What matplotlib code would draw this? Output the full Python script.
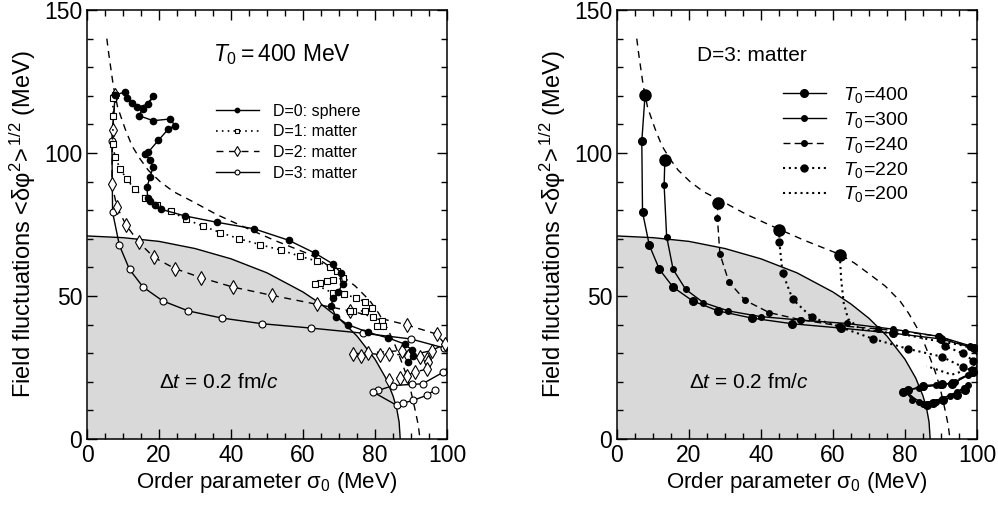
import matplotlib
matplotlib.use('Agg')
import matplotlib.pyplot as plt
from matplotlib.ticker import MultipleLocator

plt.rcParams['font.family'] = ['Liberation Sans', 'DejaVu Sans']
plt.rcParams['mathtext.fontset'] = 'custom'
plt.rcParams['mathtext.rm'] = 'Liberation Sans'
plt.rcParams['mathtext.it'] = 'Liberation Sans:italic'
plt.rcParams['mathtext.bf'] = 'Liberation Sans:bold'

# shaded region boundary
shade_x = [0, 10, 20, 30, 40, 50, 60, 65, 70, 75, 80, 83, 85, 86, 86.7, 87]
shade_y = [71, 70.4, 69.1, 66.6, 63.0, 58.1, 51.4, 47.2, 42.2, 36.0, 27.9, 21.3, 15.1, 10.8, 5.9, 0]

# dashed boundary curve
dash_x = [5.5, 6.0, 7.3, 8.5, 10.6, 12.5, 14.7, 17, 20.3, 24, 29.4, 36, 44.4, 52, 62.0, 66, 70.3,
          74.5, 78.6, 81, 83.3, 85.2, 86.9, 88.4, 89.7, 91, 92.0, 92.5]
dash_y = [140, 135, 123.5, 116, 108.4, 102.5, 98, 94, 90, 86.5, 83, 78.5, 73.7, 69.5, 64.5, 61.5, 57.5,
          53.5, 48.3, 44, 39, 34, 28.6, 23.5, 18.2, 11, 5, 0]

# left panel: T0 = 400 MeV
d0_x = [7.8, 10.6, 11.0, 12.4, 13.8, 17.0, 18.4, 15.6, 14.3, 18.4, 23.1, 24.4, 22.6, 19.8, 17.0, 16.1,
        17.5, 18.4, 17.5, 16.7, 16.8, 17.5, 18.9, 20.6, 27.2, 36.0, 46.4, 56.0, 63.3, 68.2, 70.5, 71.0,
        69.8, 68.4, 67.8, 69.2, 72.6, 78.1, 83.7, 88.3, 90.2, 90.5, 89.3]
d0_y = [120.2, 121.4, 119.4, 117.5, 116.0, 117.1, 119.8, 115.4, 113.1, 111.3, 111.9, 109.6, 108.4, 104.4,
        100.3, 99.8, 97.5, 95.1, 91.7, 88.2, 84.4, 83.2, 81.8, 80.3, 78.0, 75.8, 73.5, 69.5, 65.0, 61.3,
        58.1, 54.3, 51.4, 49.4, 46.5, 42.7, 39.9, 37.3, 35.3, 33.2, 31.1, 29.2, 26.8]

d1_x = [7.8, 7.1, 7.3, 7.1, 7.8, 9.2, 11.0, 13.2, 16.1, 19.5, 23.2, 27.5, 32.1, 37.0, 42.3, 48.0, 54.0,
        59.2, 63.8, 67.5, 69.5, 71.2, 68.4, 66.6, 64.7, 63.3, 68.2, 71.5, 74.6, 77.2, 79.1, 77.2, 74.0,
        73.1, 79.5, 81.9, 82.3, 80.5]
d1_y = [120.2, 119.4, 113.1, 103.2, 98.6, 94.5, 90.9, 87.4, 84.4, 81.8, 79.7, 76.8, 74.5, 72.2, 70.0,
        68.0, 66.0, 63.9, 62.2, 60.1, 58.7, 56.4, 55.5, 55.2, 54.6, 54.1, 51.1, 50.6, 49.4, 48.0, 45.9,
        44.8, 44.8, 44.8, 42.7, 41.3, 39.6, 39.6]

d2_x = [7.8, 7.1, 6.9, 8.3, 10.8, 14.3, 18.6, 24.4, 31.7, 40.6, 51.5, 63.8, 73.1, 88.8, 97.1, 99.4,
        95.7, 89.3, 84.0, 81.4, 78.1, 76.0, 74.0, 87.4, 92.5, 94.4, 94.8, 94.5, 91.1, 88.8, 86.9, 84.0]
d2_y = [120.2, 107.9, 89.2, 81.2, 74.9, 68.9, 63.5, 59.6, 56.4, 53.1, 50.2, 47.1, 44.8, 39.9, 36.7, 33.2,
        30.9, 29.2, 29.8, 29.5, 30.0, 29.2, 29.8, 30.9, 28.6, 28.0, 26.8, 24.5, 23.4, 22.2, 21.4, 20.7]

d3_x = [7.8, 6.9, 7.1, 9.0, 11.8, 15.6, 21.0, 28.1, 37.4, 48.7, 62.1, 76.6, 89.9, 99.3, 102.0, 99.0,
        93.2, 90.2, 85.1, 80.9, 79.5, 86.0, 87.9, 90.6, 94.4, 96.7]
d3_y = [120.2, 104.1, 79.3, 67.7, 59.3, 53.1, 48.3, 44.8, 42.3, 40.3, 38.8, 37.0, 35.0, 31.8, 27.5, 23.4,
        19.3, 19.1, 18.7, 17.0, 16.4, 11.8, 12.6, 13.5, 15.3, 17.2]

# right panel: D=3 matter, different T0
t300_x = [13.3, 13.1, 13.8, 15.6, 19.1, 24.0, 30.9, 39.9, 50.8, 63.8, 76.8, 89.3, 98.1, 101.5, 98.5,
          94.0, 89.7, 85.0, 80.3, 82.0, 85.1, 90.2, 94.5, 97.5]
t300_y = [97.5, 88.8, 70.8, 59.3, 52.3, 47.7, 44.8, 42.8, 41.6, 40.4, 38.4, 35.9, 32.6, 28.0, 23.0,
          20.0, 18.8, 18.3, 16.8, 13.5, 12.4, 14.1, 16.5, 19.0]

t240_x = [28.0, 27.9, 28.6, 31.1, 35.6, 42.3, 51.0, 61.8, 72.5, 80.0, 89.5, 98.1, 101.5, 97.5, 93.0,
          88.5, 84.0, 80.0, 84.0, 88.5, 92.5, 96.5]
t240_y = [82.4, 77.2, 64.7, 54.9, 48.5, 44.2, 41.7, 39.6, 38.5, 37.5, 35.9, 32.1, 27.5, 22.5, 19.8,
          19.0, 17.8, 16.9, 12.8, 13.0, 15.0, 17.8]

t220_x = [45.1, 45.1, 46.0, 48.8, 54.1, 61.9, 71.2, 80.9, 90.2, 96.2, 98.5, 99.0, 96.0, 91.0]
t220_y = [73.2, 68.9, 58.1, 48.9, 42.5, 39.2, 35.0, 31.5, 28.8, 25.1, 24.0, 27.4, 30.0, 32.5]

t200_x = [61.9, 62.3, 63.0, 64.2, 67.5, 73.0, 80.0, 88.0, 95.0, 99.5, 101.0, 98.0, 93.0, 86.0]
t200_y = [64.2, 55.5, 47.5, 42.0, 38.5, 37.5, 36.5, 34.5, 33.0, 31.5, 28.0, 24.5, 22.5, 25.5]

fig = plt.figure(figsize=(9.98, 5.08), dpi=100)
ax1 = fig.add_axes([0.0872, 0.1358, 0.3607, 0.8445])
ax2 = fig.add_axes([0.6182, 0.1358, 0.3607, 0.8445])

for ax in (ax1, ax2):
    ax.fill_between(shade_x, 0, shade_y, color='#d9d9d9', lw=0, zorder=0)
    ax.plot(shade_x, shade_y, 'k-', lw=1.0, zorder=1)
    ax.plot(dash_x, dash_y, color='k', lw=1.0, ls=(0, (5, 4)), zorder=1)
    ax.set_xlim(0, 100)
    ax.set_ylim(0, 150)
    ax.xaxis.set_major_locator(MultipleLocator(20))
    ax.xaxis.set_minor_locator(MultipleLocator(5))
    ax.yaxis.set_major_locator(MultipleLocator(50))
    ax.yaxis.set_minor_locator(MultipleLocator(10))
    ax.tick_params(which='both', direction='in', top=True, right=True, labelsize=16.5, width=1.0)
    ax.tick_params(which='major', length=7)
    ax.tick_params(which='minor', length=4.5)
    for s in ax.spines.values():
        s.set_linewidth(1.1)
    ax.set_xlabel('Order parameter σ$_0$ (MeV)', fontsize=16, labelpad=2)
    ax.set_ylabel('Field fluctuations <δφ$^2$>$^{\\,1/2}$ (MeV)', fontsize=17, labelpad=4)
    ax.text(20, 19.8, r'$\Delta t$ = 0.2 fm/$c$', fontsize=15, va='center')

# left panel curves
ax1.plot(d0_x, d0_y, 'k-', lw=1.0, marker='o', ms=4.5, mfc='k', label='D=0: sphere', zorder=5)
ax1.plot(d1_x, d1_y, color='k', lw=1.2, ls=(0, (1, 2.5)), marker='s', ms=5, mfc='white',
         mew=0.8, label='D=1: matter', zorder=4)
ax1.plot(d2_x, d2_y, color='k', lw=1.0, ls=(0, (5, 4)), marker='d', ms=7.5, mfc='white',
         mew=0.8, label='D=2: matter', zorder=3)
ax1.plot(d3_x, d3_y, 'k-', lw=1.0, marker='o', ms=5, mfc='white', mew=0.8,
         label='D=3: matter', zorder=2)
ax1.text(35, 132.3, r'$T_0 = 400$ MeV', fontsize=16.5, va='baseline')
ax1.legend(loc='upper left', bbox_to_anchor=(0.335, 0.80), frameon=False, fontsize=11.5,
           handlelength=2.7, handletextpad=0.9, labelspacing=0.35, borderpad=0,
           markerscale=0.7)

# right panel curves
ax2.plot(d3_x, d3_y, 'k-', lw=1.0, marker='o', ms=5.5, mfc='k', label=r'$T_0$=400', zorder=5)
ax2.plot(t300_x, t300_y, 'k-', lw=1.0, marker='o', ms=4, label=r'$T_0$=300', zorder=4)
ax2.plot(t240_x, t240_y, color='k', lw=1.0, ls=(0, (5, 3)), marker='o', ms=4,
         label=r'$T_0$=240', zorder=4)
ax2.plot(t220_x, t220_y, color='k', lw=1.5, ls=(0, (1, 1.8)), marker='o', ms=5,
         label=r'$T_0$=220', zorder=3)
ax2.plot(t200_x, t200_y, color='k', lw=1.5, ls=(0, (1, 1.8)), label=r'$T_0$=200', zorder=3)
# initial points
for xs, ys in ((d3_x, d3_y), (t300_x, t300_y), (t240_x, t240_y), (t220_x, t220_y), (t200_x, t200_y)):
    ax2.plot(xs[0], ys[0], 'ko', ms=8, zorder=6)
ax2.text(22.2, 132.3, 'D=3: matter', fontsize=15, va='baseline')
ax2.legend(loc='upper left', bbox_to_anchor=(0.434, 0.848), frameon=False, fontsize=14,
           handlelength=2.2, handletextpad=0.9, labelspacing=0.25, borderpad=0)

plt.savefig('out.png', dpi=100)
